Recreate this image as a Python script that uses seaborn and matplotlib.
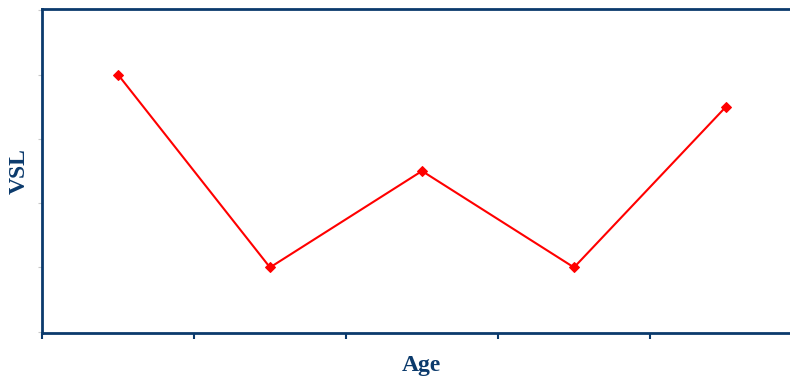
import pandas as pd
import matplotlib
matplotlib.use("Agg")
import matplotlib.pyplot as plt
import seaborn as sns

# Values (y axis has no labels, units are tick steps)
age_groups = [0, 1, 2, 3, 4]
vsl_values = [4.0, 1.0, 2.5, 1.0, 3.5]
y_ticks = [0, 1, 2, 3, 4, 5]
x_ticks = [-0.5, 0.5, 1.5, 2.5, 3.5, 4.5]

navy = "#0b3a6c"

df = pd.DataFrame({"Age": age_groups, "VSL": vsl_values})

sns.set_style("white")
plt.rcParams["font.family"] = ["Liberation Serif", "DejaVu Serif"]

fig = plt.figure(figsize=(7.9, 3.79), dpi=100)
ax = fig.add_axes([42 / 790, 1 - 333 / 379, 760 / 790, 324 / 379])

sns.lineplot(data=df, x="Age", y="VSL", ax=ax, color="red", linewidth=1.5,
             marker="D", markersize=5, markeredgecolor="red")

ax.set_xlim(-0.5, 4.5)
ax.set_ylim(-0.02, 5.02)
ax.set_xticks(x_ticks)
ax.set_yticks(y_ticks)
ax.set_xticklabels([])
ax.set_yticklabels([])
ax.tick_params(axis="x", direction="out", length=4.5, width=1.5, color=navy, bottom=True)
ax.tick_params(axis="y", direction="out", length=3, width=0.8, color="#c8c8c8", left=True)

for side in ["left", "bottom", "top"]:
    ax.spines[side].set_color(navy)
    ax.spines[side].set_linewidth(2)
ax.spines["right"].set_visible(False)

ax.set_xlabel("")
ax.set_ylabel("")
fig.text(421 / 790, 1 - 366 / 379, "Age", fontsize=17, fontweight="bold",
         color=navy, ha="center", va="center")
fig.text(19 / 790, 1 - 171 / 379, "VSL", fontsize=17, fontweight="bold",
         color=navy, ha="center", va="center", rotation=90)

fig.savefig("out.png", dpi=100)
